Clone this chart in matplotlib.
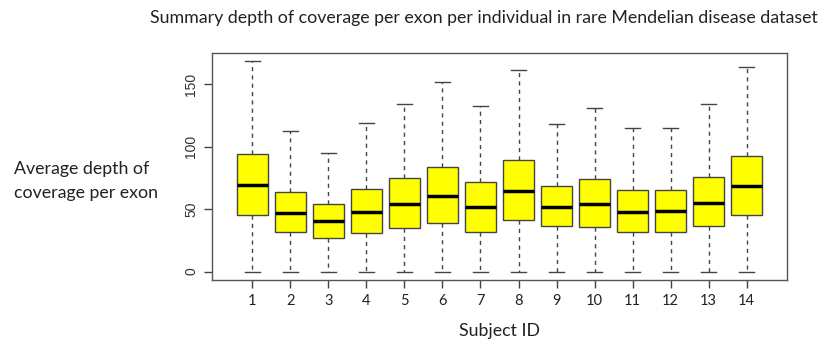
import matplotlib
matplotlib.use('Agg')
import matplotlib.pyplot as plt
import numpy as np

#Summary stats (per subject)
subjects = [str(k) for k in range(1,15)]
whisker_low = [0]*14
q1 = [45.6,31.5,27.0,31.2,35.2,39.0,32.0,41.6,36.6,35.8,32.0,32.0,36.6,45.4]
median = [69.2,46.7,40.3,47.5,54.2,60.4,51.6,64.6,52.1,54.2,47.5,48.3,55.0,68.4]
q3 = [94.0,63.8,54.2,66.2,75.0,83.6,71.6,89.7,68.9,74.2,65.2,65.2,75.6,92.6]
whisker_high = [168.4,112.6,95.3,119.3,134.0,152.1,132.4,161.5,118.3,130.8,115.3,115.3,134.0,163.6]

stats = []
for i in range(len(subjects)):
	stats.append(dict(label=subjects[i],whislo=whisker_low[i],q1=q1[i],med=median[i],q3=q3[i],whishi=whisker_high[i],fliers=[]))

fig = plt.figure(figsize=(8.22,3.48),dpi=100)
ax = fig.add_axes([212/822,68/348,575/822,227/348])

edge = '#444444'
ax.bxp(stats,positions=np.arange(1,15),widths=0.8,capwidths=0.4,patch_artist=True,
	boxprops=dict(facecolor='yellow',edgecolor=edge,linewidth=1),
	medianprops=dict(color='black',linewidth=2.5),
	whiskerprops=dict(color=edge,linewidth=1,linestyle=(0,(3,3))),
	capprops=dict(color=edge,linewidth=1))

ax.set_xlim(-0.06,15.06)
ymax = max(whisker_high)
ax.set_ylim(-0.04*ymax,1.04*ymax)
ax.set_yticks([0,50,100,150])
ax.set_yticklabels(['0','50','100','150'],rotation=90,va='center',fontsize=10,family='Liberation Sans',color='#333333')
ax.set_xticks(np.arange(1,15))
ax.set_xticklabels(subjects,fontsize=10.5,family='Lato',color='#222222')
ax.tick_params(direction='out',length=6,color='#444444',width=1)
ax.tick_params(axis='x',pad=4)
ax.tick_params(axis='y',pad=4)
for s in ax.spines.values():
	s.set_color('#555555')
	s.set_linewidth(1)

#Titles and labels as loose text
fig.text(0.589,0.948,'Summary depth of coverage per exon per individual in rare Mendelian disease dataset',
	ha='center',va='center',fontsize=12.8,family='Lato',color='#222222')
fig.text(0.017,0.48,'Average depth of\ncoverage per exon',ha='left',va='center',fontsize=12.8,family='Lato',linespacing=1.6,color='#222222')
fig.text(0.608,0.049,'Subject ID',ha='center',va='center',fontsize=12.8,family='Lato',color='#222222')

fig.savefig('out.png',dpi=100)
